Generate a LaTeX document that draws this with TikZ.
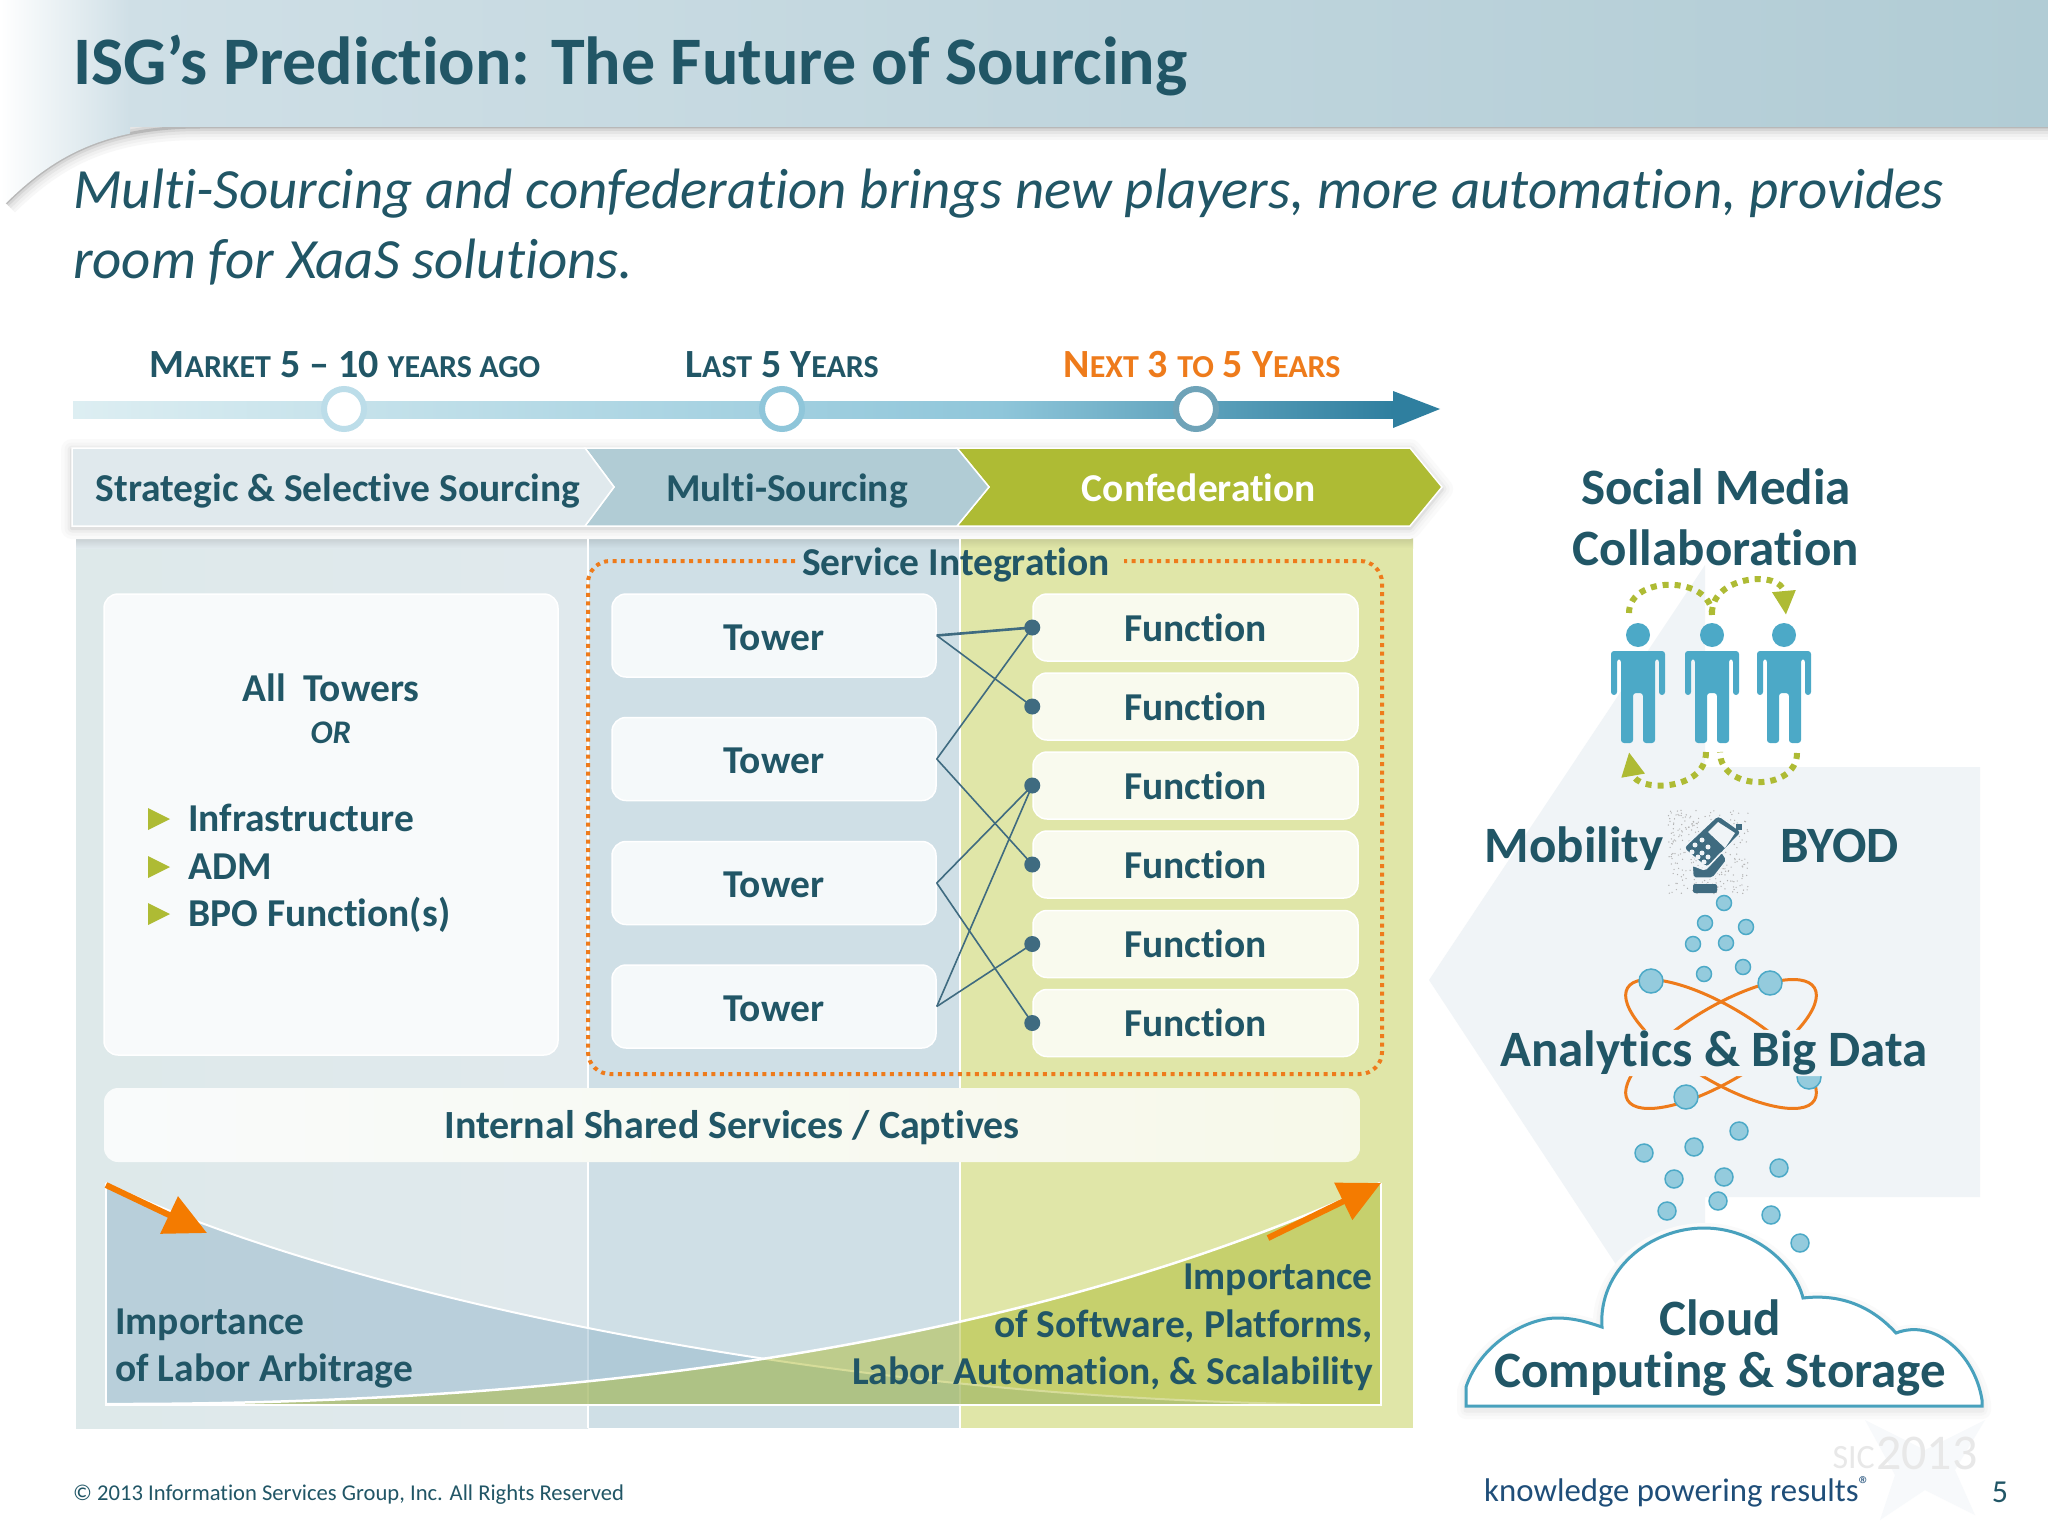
\documentclass[tikz,border=0pt]{standalone}
\usepackage{fontspec}
\setmainfont{Carlito}[Ligatures=NoCommon]
\usetikzlibrary{arrows.meta,calc}
\newcommand{\fsize}[1]{\fontsize{#1}{#1}\selectfont}
\newcommand{\smc}[1]{{\fsize{32}\MakeUppercase{#1}}}
\definecolor{textc}{HTML}{215666}
\definecolor{orangec}{HTML}{EE7B1B}
\definecolor{arrowc}{HTML}{F47B00}
\definecolor{greenc}{HTML}{AEBB34}
\definecolor{personc}{HTML}{4CA9C7}
\definecolor{iconc}{HTML}{3F6B80}
\definecolor{panelc}{HTML}{F0F4F7}
\definecolor{colA}{HTML}{E0E9ED}
\definecolor{colAleft}{HTML}{DEE9EA}
\definecolor{colB}{HTML}{CFDFE6}
\definecolor{colC}{HTML}{E0E6A8}
\definecolor{headc}{HTML}{B1CCD5}
\definecolor{barleft}{HTML}{DDEEF2}
\definecolor{barmid}{HTML}{8FC6DA}
\definecolor{barright}{HTML}{2F7F9F}
\definecolor{dotc}{HTML}{6FA3B8}
\definecolor{labourc}{HTML}{8FB3C8}
\definecolor{sloganc}{HTML}{1F4E79}

\begin{document}
\begin{tikzpicture}[
  x=1pt,y=-1pt,
  every node/.style={text=textc,inner sep=0pt},
  bold/.style={font=\fsize{#1}\bfseries},
  stagelabel/.style={font=\fsize{40}\bfseries},
  stagedot/.style={circle,draw=#1,line width=6pt,fill=white,minimum size=40pt},
  chevron/.style={fill=#1,draw=white,line width=1.5pt},
  softbox/.style={rounded corners=14pt,draw=white,line width=1.5pt,fill=#1,bold=39.5},
  towerbox/.style={softbox=colB!20!white,minimum width=324pt,minimum height=83pt},
  functionbox/.style={softbox=colC!20!white,minimum width=325pt,minimum height=67pt},
  linkdot/.style={circle,fill=iconc,minimum size=16pt},
  linkline/.style={draw=iconc,line width=1.6pt},
  bubble/.style={circle,fill=personc!60,draw=personc,line width=1.5pt,minimum size=#1},
  turn/.style={dash pattern=on 6pt off 6pt,line width=6pt,draw=greenc},
  turnhead/.style={-{Triangle[length=24pt,width=22pt,fill=greenc]}},
  trend/.style={arrowc,line width=6pt,-{Triangle[length=42pt,width=40pt]}},
  person/.pic={
    \fill[personc] (0,0) circle (12);
    \fill[personc,rounded corners=3pt] (-27,16)--(27,16)--(27,60)--(21,60)--(21,24)--(17,24)--(17,108)--(5,108)--(5,58)--(-5,58)--(-5,108)--(-17,108)--(-17,24)--(-21,24)--(-21,60)--(-27,60)--cycle;
  }
]
\useasboundingbox (0,0) rectangle (2048,1536);
\fill[white] (0,0) rectangle (2048,1536);

% header
\foreach \wd/\shadowc in {26/black!3,20/black!6,14/black!10,8/black!16,3/black!28} {
  \draw[line width=\wd pt,\shadowc] (6,203) .. controls (50,160) and (100,127) .. (200,127) -- (2048,127);
}
\begin{scope}
  \clip (0,0) -- (2048,0) -- (2048,127) -- (200,127) .. controls (100,127) and (50,160) .. (6,203) -- (0,205) -- cycle;
  \shade[left color=white,right color=colB] (0,0) rectangle (130,205);
  \shade[left color=colB,right color=headc] (130,0) rectangle (2048,127);
\end{scope}
\node[anchor=west,bold=68] (title) at (73,66) {ISG’s Prediction: The Future of Sourcing};
\node[anchor=west,font=\fsize{56.9}\itshape] (subone) at (73,194) {Multi-Sourcing and confederation brings new players, more automation, provides};
\node[anchor=west,font=\fsize{56.9}\itshape] (subtwo) at (73,262) {room for XaaS solutions.};

% timeline
\shade[left color=barleft,right color=barmid] (73,401) rectangle (1000,418);
\shade[left color=barmid,right color=barright] (1000,401) rectangle (1393,418);
\fill[barright] (1393,391) -- (1440,409) -- (1393,428) -- cycle;
\foreach \name/\xpos/\dotcol in {past/344/barmid!60!white,last/782/barmid,next/1196/dotc} {
  \node[stagedot=\dotcol] (\name) at (\xpos,409) {};
}
\node[stagelabel] (pastlabel) at (345,365) {M\smc{arket} 5 – 10 \smc{years ago}};
\node[stagelabel] (lastlabel) at (782,365) {L\smc{ast} 5 Y\smc{ears}};
\node[stagelabel,text=orangec] (nextlabel) at (1202,365) {N\smc{ext} 3 \smc{to} 5 Y\smc{ears}};

% columns
\shade[left color=colAleft,right color=colA] (76,526) rectangle (588,1428);
\fill[colB] (588,526) rectangle (960,1428);
\fill[colC] (960,526) rectangle (1413,1428);
\foreach \xa/\xb/\colname in {76/588/colA,588/960/colB,960/1413/colC} {
  \shade[top color=\colname!75!black,bottom color=\colname] (\xa,526) rectangle (\xb,548);
}
\draw[white,line width=1.5pt] (588,526) -- (588,1428) (960,526) -- (960,1428);

% stages
\foreach \wd/\shadowc in {22/black!2,15/black!4,9/black!7,4/black!12} {
  \draw[line width=\wd pt,\shadowc,line join=round] (72,450) -- (1410,450) -- (1442,489) -- (1410,528) -- (72,528) -- cycle;
}
\path[chevron=greenc] (957,448) -- (1410,448) -- (1442,487) -- (1410,526) -- (957,526) -- (989,487) -- cycle;
\path[chevron=headc] (585,448) -- (957,448) -- (989,487) -- (957,526) -- (585,526) -- (614,487) -- cycle;
\path[chevron=colA] (72,448) -- (585,448) -- (614,487) -- (585,526) -- (72,526) -- cycle;
\node[anchor=base,bold=39.5] (strategic) at (338,501) {Strategic \& Selective Sourcing};
\node[anchor=base,bold=39.5] (multi) at (787,501) {Multi-Sourcing};
\node[anchor=base,bold=39.5,text=white] (confed) at (1199,501) {Confederation};

% left box
\node[softbox=colB!15!white,minimum width=454pt,minimum height=461pt] (towers) at (331,824.5) {};
\node[bold=39.5] (alltowers) at (331,688) {All~ Towers};
\node[font=\fsize{33}\bfseries\itshape] (orlabel) at (331,733) {OR};
\foreach \name/\ypos/\entry in {infra/819/Infrastructure,adm/867/ADM,bpo/914/BPO Function(s)} {
  \fill[greenc] (148,\ypos-11) -- (170,\ypos) -- (148,\ypos+11) -- cycle;
  \node[anchor=base west,bold=39.5] (\name) at (188,\ypos+12.5) {\entry};
}

% service integration
\draw[orangec,line width=4pt,dash pattern=on 4pt off 4.5pt,rounded corners=22pt]
  (795,561) -- (588,561) -- (588,1074) -- (1382,1074) -- (1382,561) -- (1124,561);
\node[bold=39.5] (service) at (956,565) {Service Integration};
\foreach \name/\ypos in {ta/635.5,tb/759,tc/883,td/1006.5} {
  \node[towerbox] (\name) at (774,\ypos) {\raisebox{-2pt}[\height][0pt]{Tower}};
}
\foreach \name/\ypos in {fa/627.5,fb/706.5,fc/785.5,fd/864.5,fe/944,ff/1023} {
  \node[functionbox] (\name) at (1195.5,\ypos) {Function};
  \node[linkdot] (\name dot) at (\name.west) {};
}
\foreach \from/\target in {ta/fa,ta/fb,tb/fa,tb/fd,tc/fc,tc/ff,td/fc,td/fe} {
  \draw[linkline] (\from.east) -- (\target dot.center);
}
\draw[linkline,line width=2.6pt] (ta.east) -- (fadot.center);

% shared services
\shade[left color=colA!20!white,middle color=colB!20!white,right color=colC!25!white,rounded corners=14pt]
  (104,1088) rectangle (1360,1162);
\node[bold=40] (shared) at (732,1128) {Internal Shared Services / Captives};

% importance curves
\fill[labourc,opacity=.47] (106,1183) .. controls (330,1290) and (800,1395) .. (1300,1404) -- (106,1404) -- cycle;
\draw[white,line width=2pt] (106,1183) .. controls (330,1290) and (800,1395) .. (1300,1404);
\fill[greenc,opacity=.5] (106,1404) .. controls (620,1405) and (1050,1335) .. (1380,1183) -- (1380,1404) -- cycle;
\draw[white,line width=2.5pt] (106,1404) .. controls (620,1405) and (1050,1335) .. (1380,1183);
\draw[white,line width=2pt] (106,1183) -- (106,1405) -- (1381,1405) -- (1381,1183);
\coordinate (fallstart) at (106,1185);
\coordinate (fallend) at (207,1233);
\coordinate (risestart) at (1268,1238);
\coordinate (riseend) at (1381,1183);
\draw[trend] (fallstart) -- (fallend);
\draw[trend] (risestart) -- (riseend);
\node[anchor=west,bold=39.5] (labora) at (115,1325) {Importance};
\node[anchor=west,bold=39.5] (laborb) at (115,1371) {of Labor Arbitrage};
\node[anchor=east,bold=39.5] (softa) at (1373,1280) {Importance};
\node[anchor=east,bold=39.5] (softb) at (1373,1326) {of Software, Platforms,};
\node[anchor=east,bold=39.5] (softc) at (1373,1374) {Labor Automation, \& Scalability};

% right arrow panel
\fill[panelc] (1429,980) -- (1705,565) -- (1705,767) -- (1980,767) -- (1980,1197) -- (1705,1197) -- (1705,1400) -- cycle;
\node[bold=51] (social) at (1716,487) {Social Media};
\node[bold=51] (collab) at (1716,548) {Collaboration};
\foreach \xpos in {1638,1712,1784} {
  \pic at (\xpos,635) {person};
}
\draw[turn] (1629,613) .. controls (1629,575) and (1712,575) .. (1712,615);
\draw[turn,turnhead] (1712,613) .. controls (1712,575) and (1782,570) .. (1786,615);
\draw[turn] (1797,753) .. controls (1797,792) and (1720,792) .. (1720,752);
\draw[turn,turnhead] (1706,752) .. controls (1706,792) and (1636,792) .. (1629,752);

% phone
\pgfmathsetseed{42}
\foreach \i in {1,...,320} {
  \pgfmathsetmacro{\xdot}{1708+40*rand}
  \pgfmathsetmacro{\ydot}{852+42*rand}
  \fill[black!30] (\xdot,\ydot) circle (.7);
}
\draw[panelc,line width=1.5pt,fill=iconc,rounded corners=4pt] (1718,815) -- (1742,832) -- (1707,868) -- (1683,848) -- cycle;
\fill[iconc] (1736,824) rectangle (1742,830);
\fill[panelc] (1718,822) -- (1735,833) -- (1725,848) -- (1708,832) -- cycle;
\foreach \xpos/\ypos in {1702/840,1695/845,1692/852,1708/847,1702/853,1708/857,1698/857,1704/862} {
  \fill[panelc] (\xpos,\ypos) circle (2.5);
}
\draw[panelc,line width=1.5pt,fill=iconc,rounded corners=2pt] (1692,865) -- (1705,870) -- (1722,852) -- (1727,860) -- (1713,878) -- (1693,878) -- cycle;
\fill[iconc,rounded corners=2pt] (1693,884) rectangle (1717,893);
\node[bold=51] (mobility) at (1574,849) {Mobility};
\node[bold=51] (byod) at (1840,846) {BYOD};
\foreach \xpos/\ypos [count=\n] in {1724/903,1705/923,1746/927,1693/944,1726/943,1743/967,1704/974} {
  \node[bubble=15pt] (smalldrop\n) at (\xpos,\ypos) {};
}

% atom
\draw[orangec,line width=3pt,rotate around={-31:(1721,1044)}] (1721,1044) ellipse (109 and 37);
\draw[orangec,line width=3pt,rotate around={31:(1721,1044)}] (1721,1044) ellipse (109 and 37);
\foreach \xpos/\ypos [count=\n] in {1651/981,1770/983,1686/1097,1809/1077} {
  \node[bubble=24pt] (atom\n) at (\xpos,\ypos) {};
}
\node[bold=51,fill=panelc,inner xsep=6pt,inner ysep=1pt,rounded corners=8pt] (analytics) at (1714,1053) {Analytics \& Big Data};
\foreach \xpos/\ypos [count=\n] in {1739/1131,1694/1147,1644/1153,1779/1168,1724/1177,1674/1179,1718/1201,1667/1211,1771/1215,1800/1243} {
  \node[bubble=18pt] (drop\n) at (\xpos,\ypos) {};
}

% cloud
\foreach \wd/\shadowc in {18/black!2,11/black!4,5/black!7} {
  \draw[line width=\wd pt,\shadowc,line join=round,yshift=-4pt] (1466,1406) -- (1466,1387) .. controls (1480,1345) and (1525,1318) .. (1557,1318) .. controls (1575,1318) and (1590,1323) .. (1602,1327) .. controls (1598,1270) and (1650,1228) .. (1704,1228) .. controls (1755,1228) and (1795,1265) .. (1803,1298) .. controls (1845,1293) and (1875,1310) .. (1896,1333) .. controls (1935,1318) and (1975,1355) .. (1982,1400) -- (1982,1406) -- cycle;
}
\draw[draw=personc!95!black,line width=3pt,fill=white] (1466,1406) -- (1466,1387) .. controls (1480,1345) and (1525,1318) .. (1557,1318) .. controls (1575,1318) and (1590,1323) .. (1602,1327) .. controls (1598,1270) and (1650,1228) .. (1704,1228) .. controls (1755,1228) and (1795,1265) .. (1803,1298) .. controls (1845,1293) and (1875,1310) .. (1896,1333) .. controls (1935,1318) and (1975,1355) .. (1982,1400) -- (1982,1406) -- cycle;
\node[bold=51] (cloudone) at (1720,1318) {Cloud};
\node[bold=51] (cloudtwo) at (1720,1374) {Computing \& Storage};

% footer
\fill[panelc!55!white] (1865,1420) -- (1925,1450) -- (1985,1420) -- (1955,1470) -- (1975,1515) -- (1925,1490) -- (1880,1520) -- (1895,1475) -- cycle;
\node[anchor=east,font=\fsize{34},text=black!9] (sic) at (1875,1458) {SIC};
\node[anchor=west,font=\fsize{50},text=black!9] (sicyear) at (1876,1453) {2013};
\node[anchor=west,font=\fsize{22.6}] (copyright) at (73,1495) {© 2013 Information Services Group, Inc. All Rights Reserved};
\node[anchor=west,font=\fsize{32.8},text=sloganc] (slogan) at (1484,1492) {knowledge powering results\textsuperscript{®}};
\node[font=\fsize{32}] (pagenum) at (2000,1492) {5};
\end{tikzpicture}
\end{document}
